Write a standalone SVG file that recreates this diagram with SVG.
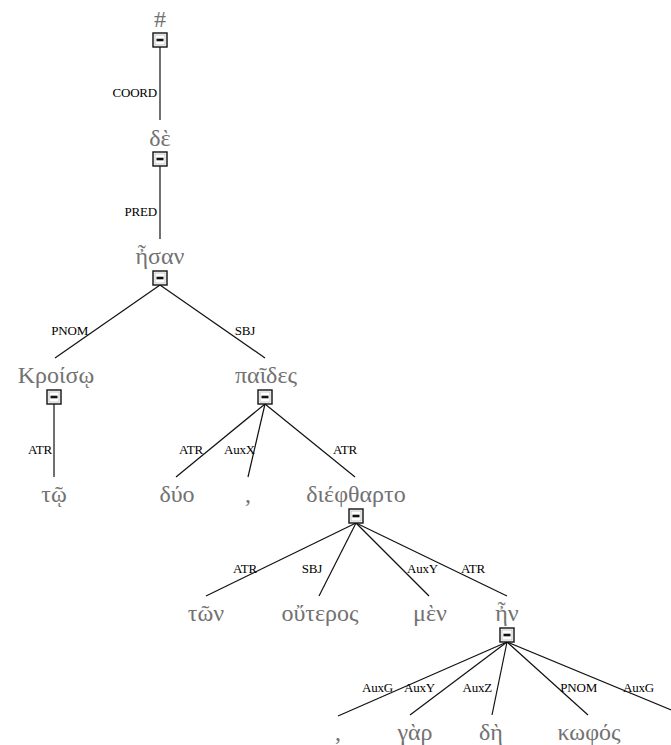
<svg xmlns="http://www.w3.org/2000/svg" width="671" height="745" viewBox="0 0 671 745">
<style>
  .w{font-family:"Liberation Serif","DejaVu Serif",serif;font-size:24px;fill:#727272;text-anchor:middle}
  .l{font-family:"Liberation Serif","DejaVu Serif",serif;font-size:13px;fill:#000;text-anchor:end;letter-spacing:-0.2px}
  .e line{stroke:#111;stroke-width:1.2}
</style>
<defs>
  <!-- collapse toggle drawn under each non-leaf word -->
  <g id="tog">
    <rect x="-7" y="0" width="14" height="14" fill="#fff" stroke="#111" stroke-width="1.4"/>
    <rect x="-5" y="2" width="10" height="10" fill="none" stroke="#bbb" stroke-width="0.8"/>
    <rect x="-3.5" y="5.7" width="7" height="2.6" fill="#111"/>
  </g>
</defs>
<rect width="671" height="745" fill="#fff"/>

<g class="e" id="edges">
  <line x1="160" y1="47" x2="160" y2="120"/>
  <line x1="160" y1="166" x2="160" y2="239"/>
  <line x1="160" y1="285" x2="55" y2="358"/>
  <line x1="160" y1="285" x2="265" y2="358"/>
  <line x1="54" y1="404" x2="54" y2="477"/>
  <line x1="265" y1="404" x2="176" y2="477"/>
  <line x1="265" y1="404" x2="248" y2="477"/>
  <line x1="265" y1="404" x2="355" y2="477"/>
  <line x1="356" y1="523" x2="206" y2="596"/>
  <line x1="356" y1="523" x2="319" y2="596"/>
  <line x1="356" y1="523" x2="429" y2="596"/>
  <line x1="356" y1="523" x2="507" y2="596"/>
  <line x1="507" y1="642" x2="338" y2="716"/>
  <line x1="507" y1="642" x2="410" y2="715"/>
  <line x1="507" y1="642" x2="492" y2="715"/>
  <line x1="507" y1="642" x2="588" y2="715"/>
  <line x1="507" y1="642" x2="688" y2="717"/>
  <text class="l" x="157" y="97">COORD</text>
  <text class="l" x="157" y="216">PRED</text>
  <text class="l" x="88" y="335">PNOM</text>
  <text class="l" x="255" y="335">SBJ</text>
  <text class="l" x="52" y="454">ATR</text>
  <text class="l" x="203" y="454">ATR</text>
  <text class="l" x="255" y="454">AuxX</text>
  <text class="l" x="357" y="454">ATR</text>
  <text class="l" x="257" y="573">ATR</text>
  <text class="l" x="322" y="573">SBJ</text>
  <text class="l" x="438" y="573">AuxY</text>
  <text class="l" x="485" y="573">ATR</text>
  <text class="l" x="393" y="692">AuxG</text>
  <text class="l" x="435" y="692">AuxY</text>
  <text class="l" x="492" y="692">AuxZ</text>
  <text class="l" x="597" y="692">PNOM</text>
  <text class="l" x="654" y="692">AuxG</text>
</g>

<g id="n-root"><text class="w" x="160" y="27">#</text><use href="#tog" x="160" y="33"/></g>
<g id="n-de"><text class="w" x="160" y="146">δὲ</text><use href="#tog" x="160" y="152"/></g>
<g id="n-esan"><text class="w" x="160" y="264">ἦσαν</text><use href="#tog" x="160" y="271"/></g>
<g id="n-kroiso"><text class="w" x="56" y="383">Κροίσῳ</text><use href="#tog" x="54" y="390"/></g>
<g id="n-paides"><text class="w" x="266" y="383">παῖδες</text><use href="#tog" x="265" y="390"/></g>
<g id="n-to"><text class="w" x="54" y="502">τῷ</text></g>
<g id="n-duo"><text class="w" x="177" y="502">δύο</text></g>
<g id="n-comma1"><text class="w" x="248" y="502">,</text></g>
<g id="n-diefth"><text class="w" x="356" y="502">διέφθαρτο</text><use href="#tog" x="356" y="509"/></g>
<g id="n-ton"><text class="w" x="206" y="621">τῶν</text></g>
<g id="n-outeros"><text class="w" x="320" y="621">οὔτερος</text></g>
<g id="n-men"><text class="w" x="430" y="621">μὲν</text></g>
<g id="n-en"><text class="w" x="507" y="621">ἦν</text><use href="#tog" x="507" y="628"/></g>
<g id="n-comma2"><text class="w" x="338" y="740">,</text></g>
<g id="n-gar"><text class="w" x="415" y="740">γὰρ</text></g>
<g id="n-de2"><text class="w" x="491" y="740">δὴ</text></g>
<g id="n-kophos"><text class="w" x="589" y="740">κωφός</text></g>
</svg>
